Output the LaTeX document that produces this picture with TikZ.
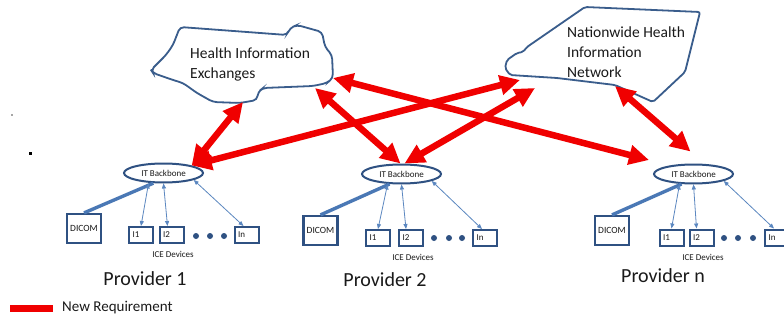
\documentclass[tikz,border=0pt]{standalone}
\usepackage{fontspec}
\setmainfont{Carlito}
\usetikzlibrary{arrows.meta,shapes.geometric,calc}
\definecolor{outl}{HTML}{3A5D8C}
\definecolor{boxc}{HTML}{2F5182}
\definecolor{thinb}{HTML}{5B87C0}
\definecolor{thickb}{HTML}{4A78B5}
\definecolor{req}{HTML}{F00000}
\definecolor{txt}{HTML}{1A1A1A}
\tikzset{
  bbone/.style={ellipse,draw=boxc,line width=2pt,minimum width=79pt,minimum height=19pt,inner sep=0pt,font=\fontsize{9}{9}\selectfont,text=txt},
  dicombox/.style={draw=boxc,line width=2.2pt,minimum width=34pt,minimum height=29pt,inner sep=0pt,font=\fontsize{9.5}{9.5}\selectfont,text=txt},
  devbox/.style={draw=boxc,line width=2pt,minimum width=24pt,minimum height=16pt,text width=17pt,inner xsep=3.5pt,inner ysep=0pt,align=left,font=\fontsize{9}{9}\selectfont,text=txt},
  icelabel/.style={font=\fontsize{9}{9}\selectfont,text=txt},
  provlabel/.style={font=\fontsize{20}{20}\selectfont,text=txt},
  cloudtext/.style={font=\fontsize{15.5}{20}\selectfont,text=txt,align=left,anchor=west,inner sep=0pt},
  devdot/.style={circle,fill=boxc,inner sep=0pt,minimum size=6pt},
  thickcon/.style={draw=thickb,line width=3.4pt},
  thincon/.style={draw=thinb,line width=0.8pt,{Triangle[length=5pt,width=4pt]}-{Triangle[length=5pt,width=4pt]}},
  reqarrow/.style={draw=req,line width=6.5pt,{Triangle[length=20pt,width=19pt]}-{Triangle[length=20pt,width=19pt]}},
  cloudline/.style={draw=outl,line width=1.8pt,fill=white,rounded corners=4pt}
}
\begin{document}
\begin{tikzpicture}[x=1pt,y=-1pt]
\clip (0,0) rectangle (784,324);
\fill[white] (0,0) rectangle (784,324);

% stray dots
\fill[black!70] (12,115) circle (0.8);
\fill[black] (28.5,151.5) rectangle (31.5,154.5);

% Health Information Exchanges cloud
\draw[cloudline] (151,70) -- (166,55) -- (173,45) -- (180,27) -- (287,35) -- (290,28) -- (297,25) -- (322,32)
  -- (325,47) -- (332,55) -- (333,78) -- (327,83) -- (313,86) -- (263,88) -- (258,92) -- (257,100)
  -- (240,103) -- (213,102) -- (197,93) -- (183,83) -- (173,80) -- (153,73) -- cycle;
\node[cloudtext] (hietext) at (190,64) {Health Information\\Exchanges};

% Nationwide Health Information Network
\draw[cloudline,rounded corners=2pt] (585,7) -- (700,12) -- (685,72) -- (653,102) -- (615,85) -- (557,78) -- (510,75)
  -- (505,68) -- (507,60) -- (517,53) -- (523,52) -- (527,47) -- cycle;
\node[cloudtext] (nhintext) at (567,52) {Nationwide Health\\Information\\Network};

% connector end points on the cloud outlines
\coordinate (hieB) at (243,102);
\coordinate (hieBR) at (315,88);
\coordinate (hieR) at (333,78);
\coordinate (nhinL) at (520,80);
\coordinate (nhinB) at (535,88);
\coordinate (nhinBR) at (615,86);

% ---------- Provider 1
\node[bbone] (bb1) at (163.5,173) {IT Backbone};
\node[dicombox] (dicom1) at (84,228.5) {DICOM};
\node[devbox] (ia1) at (141,235) {I1};
\node[devbox] (ib1) at (171.5,235) {I2};
\node[devbox] (in1) at (246.5,235) {In};
\node[devdot] (da1) at (196,236) {};
\node[devdot] (db1) at (210,236) {};
\node[devdot] (dc1) at (224,236) {};
\node[icelabel] (ice1) at (173,254) {ICE Devices};
\node[provlabel] (prov1) at (145,279) {Provider 1};
\draw[thickcon] (bb1.225) -- (dicom1.north);
\draw[thincon] ([xshift=-15pt]bb1.south) -- (ia1.north);
\draw[thincon] (bb1.south) -- ([xshift=-4pt]ib1.north);
\draw[thincon] (bb1.-13) -- ([xshift=-3pt]in1.north);

% ---------- Provider 2
\node[bbone] (bb2) at (401.5,174) {IT Backbone};
\node[dicombox] (dicom2) at (320.5,230.5) {DICOM};
\node[devbox] (ia2) at (378,238) {I1};
\node[devbox] (ib2) at (411,238) {I2};
\node[devbox] (in2) at (485,238) {In};
\node[devdot] (da2) at (434,238) {};
\node[devdot] (db2) at (449,238) {};
\node[devdot] (dc2) at (462,238) {};
\node[icelabel] (ice2) at (413,257) {ICE Devices};
\node[provlabel] (prov2) at (385,280) {Provider 2};
\draw[thickcon] (bb2.220) -- (dicom2.north);
\draw[thincon] ([xshift=-14pt]bb2.south) -- (ia2.north);
\draw[thincon] (bb2.south) -- ([xshift=-5pt]ib2.north);
\draw[thincon] (bb2.-13) -- ([xshift=-3pt]in2.north);

% ---------- Provider n
\node[bbone] (bb3) at (693.5,174) {IT Backbone};
\node[dicombox] (dicom3) at (612,230.5) {DICOM};
\node[devbox] (ia3) at (671.5,237.5) {I1};
\node[devbox] (ib3) at (701.5,237.5) {I2};
\node[devbox] (in3) at (777,237.5) {In};
\node[devdot] (da3) at (724,238) {};
\node[devdot] (db3) at (738,238) {};
\node[devdot] (dc3) at (753,238) {};
\node[icelabel] (ice3) at (703,257) {ICE Devices};
\node[provlabel] (prov3) at (663,276) {Provider n};
\draw[thickcon] (bb3.220) -- (dicom3.north);
\draw[thincon] ([xshift=-14pt]bb3.south) -- (ia3.north);
\draw[thincon] (bb3.south) -- ([xshift=-5pt]ib3.north);
\draw[thincon] (bb3.-13) -- ([xshift=-3pt]in3.north);

% ---------- New requirement arrows
\draw[reqarrow] (hieB) -- (bb1.15);
\draw[reqarrow] (bb1.15) -- (nhinL);
\draw[reqarrow] (hieBR) -- ([xshift=-1pt]bb2.north);
\draw[reqarrow] (nhinB) -- ([xshift=3pt]bb2.north);
\draw[reqarrow] (hieR) -- ($(bb3.west)+(-4,-14)$);
\draw[reqarrow] (nhinBR) -- ($(bb3.north)+(-3,-12)$);

% ---------- Legend
\coordinate (legA) at (10,308);
\node[anchor=west,inner sep=0pt,font=\fontsize{15}{15}\selectfont,text=txt] (legtext) at (62,308) {New Requirement};
\draw[req,line width=7pt] (legA) -- ([xshift=-9pt]legtext.west);
\end{tikzpicture}
\end{document}
